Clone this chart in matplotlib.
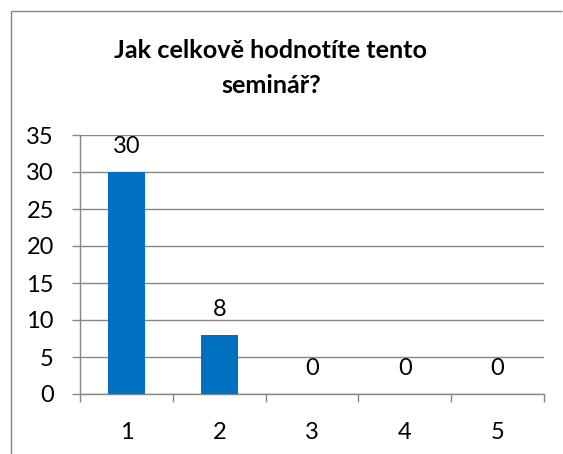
import matplotlib
matplotlib.use("Agg")
import matplotlib.pyplot as plt
from matplotlib.lines import Line2D

categories = ["1", "2", "3", "4", "5"]
values = [30, 8, 0, 0, 0]
yticks = [0, 5, 10, 15, 20, 25, 30, 35]
title = "Jak celkově hodnotíte tento\nseminář?"

plt.rcParams['font.family'] = ['Lato', 'DejaVu Sans']
W, H = 563, 454
fig = plt.figure(figsize=(W/100, H/100), dpi=100)
fig.patch.set_facecolor('white')

gray = '#868686'
# chart border (left and top only visible)
fig.lines.append(Line2D([10.5/W, 10.5/W], [0, 1 - 10.5/H], transform=fig.transFigure,
                        color=gray, linewidth=1.0, solid_capstyle='butt'))
fig.lines.append(Line2D([10.5/W, 562/W], [1 - 10.5/H, 1 - 10.5/H], transform=fig.transFigure,
                        color=gray, linewidth=1.0, solid_capstyle='butt'))

ax = fig.add_axes([80/W, 1 - 394/H, (544-80)/W, (394-135)/H])
x = list(range(len(categories)))
ax.bar(x, values, width=0.4, color='#0070C0', zorder=3)
ax.set_xlim(-0.5, len(categories) - 0.5)
ax.set_ylim(0, 35)
ax.set_yticks(yticks)
ax.set_yticklabels([str(t) for t in yticks])
ax.set_xticks(x)
ax.set_xticklabels(categories)
ax.set_xticks([i - 0.5 for i in range(len(categories) + 1)], minor=True)

for sp in ['top', 'right']:
    ax.spines[sp].set_visible(False)
for sp in ['left', 'bottom']:
    ax.spines[sp].set_color(gray)
    ax.spines[sp].set_linewidth(1.0)
ax.yaxis.grid(True, color=gray, linewidth=1.0, zorder=0)
ax.set_axisbelow(True)

ax.tick_params(axis='y', length=5.8, color=gray, width=1.0, pad=13, labelsize=17)
ax.tick_params(axis='x', which='major', length=0, pad=20, labelsize=17)
ax.tick_params(axis='x', which='minor', length=5.8, color=gray, width=1.0)

for xi, v in zip(x, values):
    ax.annotate(str(v), (xi, v), xytext=(0, 13.7), textcoords='offset points',
                ha='center', va='baseline', fontsize=17, color='black')

fig.text(271/W, 1 - 68/H, title, ha='center', va='center', fontsize=18.2,
         fontweight='bold', linespacing=1.65)

fig.savefig('out.png', dpi=100)
